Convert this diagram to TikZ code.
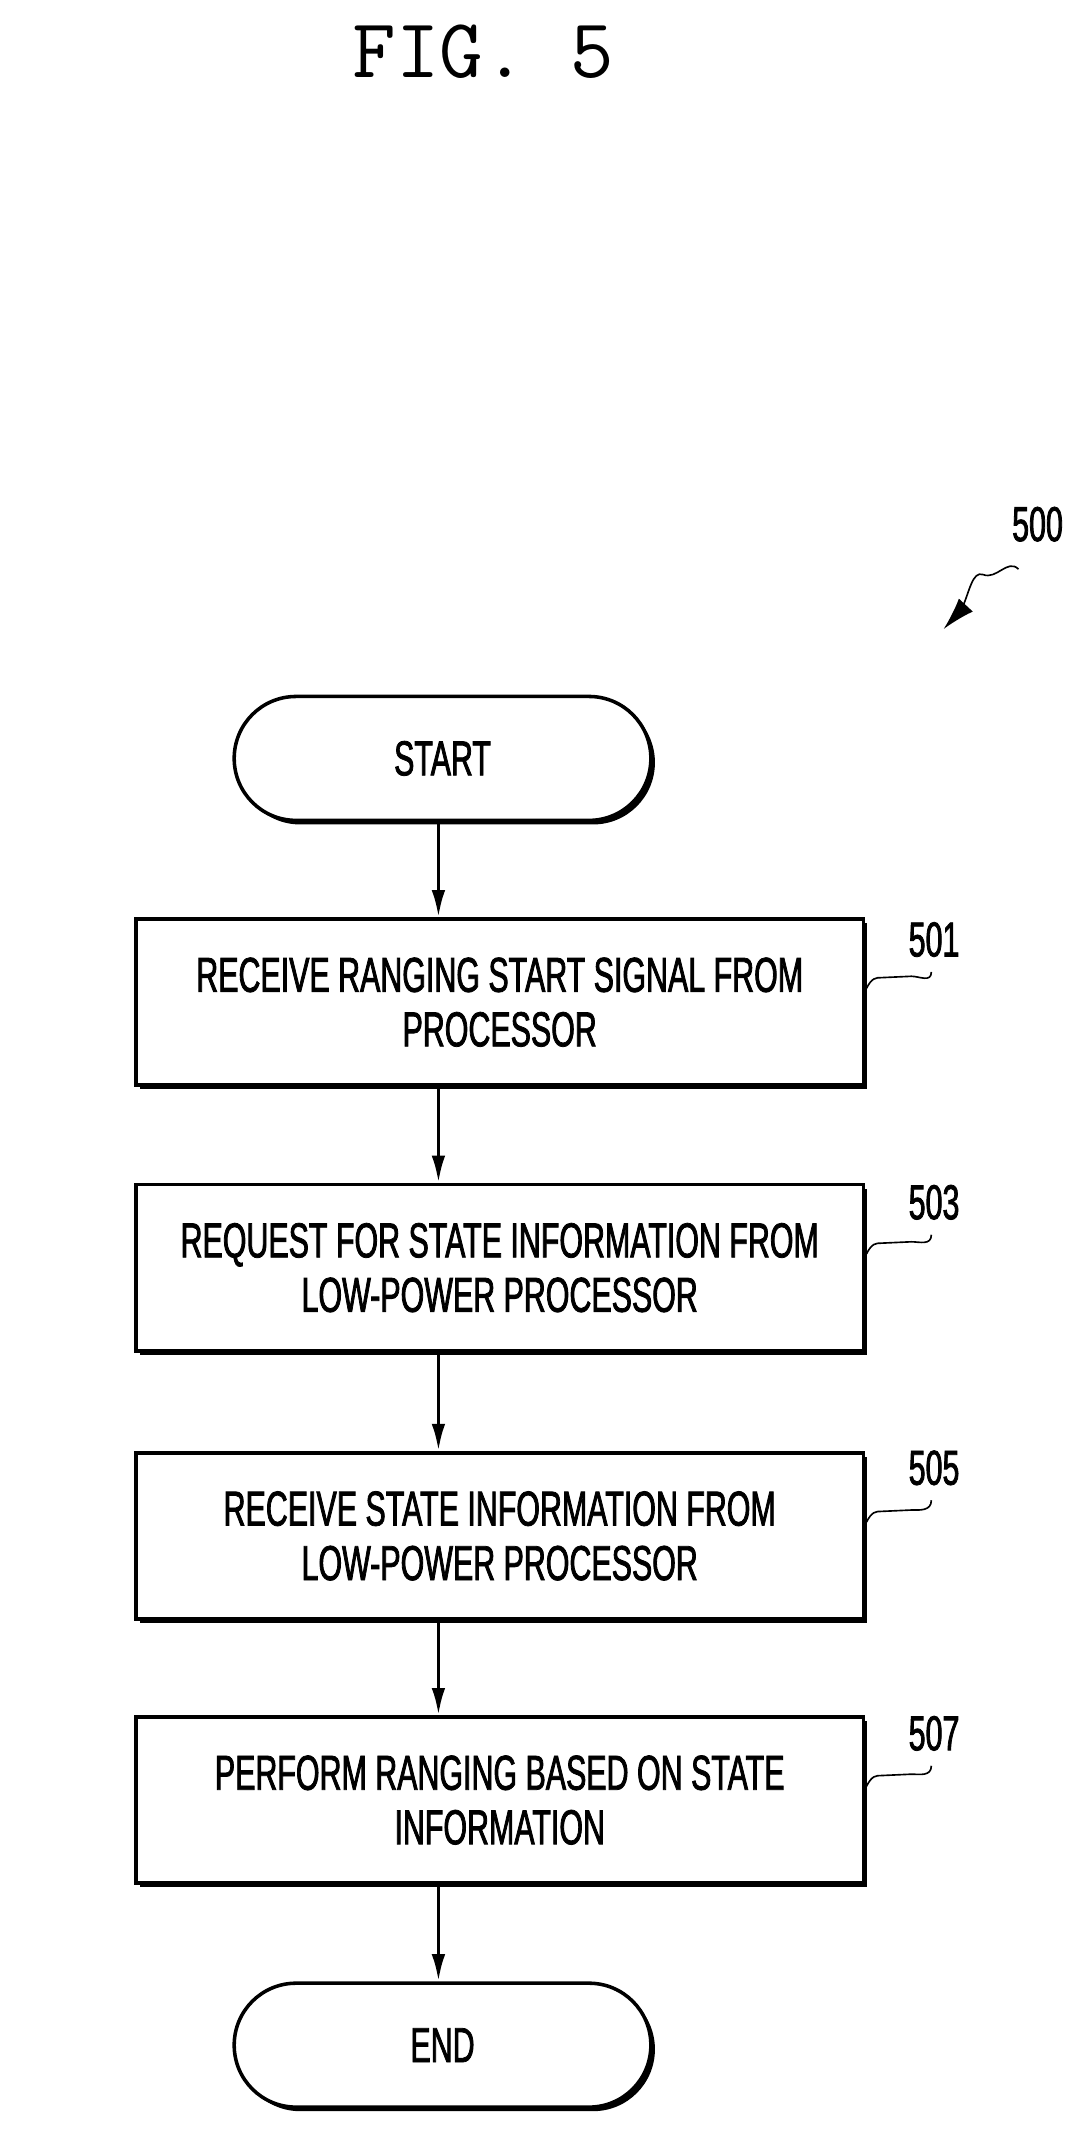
\documentclass[tikz,border=0pt]{standalone}
\usepackage{fontspec}
\usetikzlibrary{shadows,arrows.meta,calc}
\setmainfont{Liberation Sans}[FakeStretch=0.62,FakeBold=1.6]
\newfontfamily\figfont{Latin Modern Mono}
\begin{document}
\begin{tikzpicture}[x=0.5pt,y=-0.5pt,
  box/.style={draw,line width=1.3pt,fill=white,minimum width=267pt,minimum height=61pt,align=center,font=\fontsize{18}{20}\selectfont,
     drop shadow={shadow xshift=1.5pt,shadow yshift=-1.5pt,fill=black,opacity=1}},
  term/.style={draw,line width=1.3pt,fill=white,minimum width=153pt,minimum height=45.5pt,rounded corners=22.7pt,font=\fontsize{18}{20}\selectfont,
     drop shadow={shadow xshift=1.5pt,shadow yshift=-1.5pt,fill=black,opacity=1}},
  arr/.style={line width=1.3pt,-{Latex[length=10pt,width=5pt]}},
  lbl/.style={font=\fontsize{18}{20}\selectfont},
  lead/.style={line width=0.6pt}]
\useasboundingbox (0,0) rectangle (800,1568);
\node[font=\figfont\fontsize{31}{32}\selectfont] (fig) at (355,38) {FIG. 5};
\node[term] (start) at (325,557) {START};
\node[box] (b1) at (367,736) {RECEIVE RANGING START SIGNAL FROM\\PROCESSOR};
\node[box] (b3) at (367,931) {REQUEST FOR STATE INFORMATION FROM\\LOW-POWER PROCESSOR};
\node[box] (b5) at (367,1128) {RECEIVE STATE INFORMATION FROM\\LOW-POWER PROCESSOR};
\node[box] (b7) at (367,1322) {PERFORM RANGING BASED ON STATE\\INFORMATION};
\node[term] (end) at (325,1502) {END};
\draw[arr] (start.south -| 322,0) -- (b1.north -| 322,0);
\draw[arr] (b1.south -| 322,0) -- (b3.north -| 322,0);
\draw[arr] (b3.south -| 322,0) -- (b5.north -| 322,0);
\draw[arr] (b5.south -| 322,0) -- (b7.north -| 322,0);
\draw[arr] (b7.south -| 322,0) -- (end.north -| 322,0);
\foreach \n/\t/\y in {l1/501/690,l3/503/883,l5/505/1078,l7/507/1273}{
  \node[lbl] (\n) at (686,\y) {\t};
}
\foreach \b/\n in {b1/l1,b3/l3,b5/l5,b7/l7}{
  \draw[lead] ($(\b.east)+(1,-10)$) .. controls +(4,-8) and +(-4,0) .. ($(\b.east)+(12,-18)$)
     -- ($(\b.east)+(34,-19)$) .. controls +(6,0) and +(0,8) .. ($(\n.south)+(-2,4)$);
}
\node[lbl] (l0) at (762,385) {500};
\coordinate (tip) at (693,462);
\draw[lead] (748,418) .. controls (740,410) and (732,426) .. (722,422) .. controls (714,419) and (712,435) .. (706,448);
\draw[line width=0.6pt,-{Latex[length=12pt,width=7pt]}] (706,448) -- (tip);
\end{tikzpicture}
\end{document}
